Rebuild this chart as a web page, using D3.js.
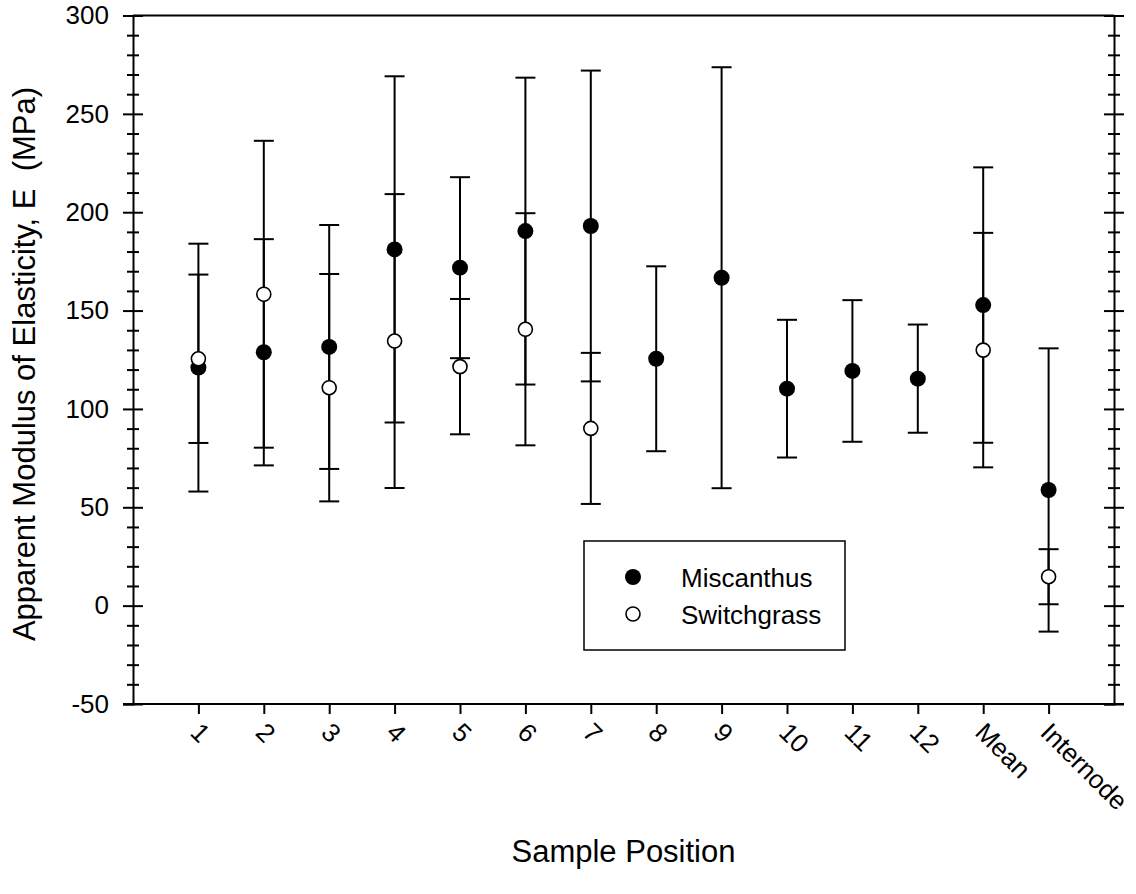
<!DOCTYPE html>
<html>
<head>
<meta charset="utf-8">
<script src="https://cdn.jsdelivr.net/npm/d3@7"></script>
<style>
  body { margin: 0; background: #fff; }
  svg { font-family: "Liberation Sans", Arial, sans-serif; }
</style>
</head>
<body>
<svg id="chart" width="1136" height="894"></svg>
<script>
// categories along the x axis (positions 1..14)
const categories = ["1", "2", "3", "4", "5", "6", "7", "8", "9", "10", "11", "12", "Mean", "Internode"];

// Miscanthus: mean and error bar half-width (MPa)
const miscMean = [121, 128.8, 131.5, 181.1, 171.8, 190.4, 193, 125.5, 166.7, 110.3, 119.3, 115.4, 152.8, 58.8];
const miscErr  = [63, 57.5, 62, 88, 46, 78, 79, 47, 107, 35, 36, 27.5, 70, 72];

// Switchgrass: mean and error (no data for positions 8-12)
const switchMean = [125.5, 158.3, 110.8, 134.5, 121.5, 140.5, 90.1, null, null, null, null, null, 129.9, 14.7];
const switchErr  = [42.8, 78, 57.8, 74.7, 34.4, 59, 38.4, null, null, null, null, null, 59.6, 14];

const yMajor = [-50, 0, 50, 100, 150, 200, 250, 300];
const yMinor = d3.range(-50, 301, 10).filter(v => v % 50 !== 0);

const svg = d3.select("#chart");
const plotL = 133, plotR = 1114, plotT = 15.5, plotB = 704;
const font = "'Liberation Sans', Arial, sans-serif";

const x = d3.scaleLinear().domain([0, categories.length + 1]).range([plotL, plotR]);
const y = d3.scaleLinear().domain([-50, 300]).range([plotB, plotT]);

// frame: top line
svg.append("line")
    .attr("x1", plotL).attr("x2", plotR)
    .attr("y1", plotT).attr("y2", plotT)
    .attr("stroke", "#000").attr("stroke-width", 2);

// left & right axes, ticks cross the line
function yAxes(xpos, labels) {
    const g = svg.append("g").attr("transform", "translate(" + xpos + ",0)");
    g.append("g").call(d3.axisLeft(y).tickValues(yMajor).tickSize(10).tickPadding(14)
        .tickFormat(labels ? (d => String(d)) : ""));
    g.append("g").call(d3.axisRight(y).tickValues(yMajor).tickSize(10).tickFormat(""));
    g.append("g").call(d3.axisLeft(y).tickValues(yMinor).tickSize(6).tickFormat(""));
    g.append("g").call(d3.axisRight(y).tickValues(yMinor).tickSize(6).tickFormat(""));
    g.selectAll(".domain").attr("stroke-width", 2);
    g.selectAll(".tick line").attr("stroke-width", 2);
    g.selectAll("text").style("font-size", "26px").attr("fill", "#000")
        .style("font-family", font);
    g.selectAll(".domain").filter((d, i) => i > 0).remove();
}
yAxes(plotL, true);
yAxes(plotR, false);

// bottom axis
const xAxis = svg.append("g")
    .attr("transform", "translate(0," + plotB + ")")
    .call(d3.axisBottom(x)
        .tickValues(d3.range(1, categories.length + 1))
        .tickSize(10).tickSizeOuter(0)
        .tickFormat(i => categories[i - 1]));
xAxis.select(".domain").attr("d", "M" + (plotL - 10) + ",0H" + (plotR + 10)).attr("stroke-width", 2);
xAxis.selectAll(".tick line").attr("stroke-width", 2);
xAxis.selectAll("text")
    .attr("x", 0).attr("y", 0).attr("dy", null)
    .attr("text-anchor", "start")
    .attr("transform", "translate(-10,30) rotate(45)")
    .attr("fill", "#000")
    .style("font-size", "26px")
    .style("font-family", font);

// build point rows
const miscRows = categories.map((c, i) => ({ pos: i + 1, mean: miscMean[i], err: miscErr[i] }));
const switchRows = categories.map((c, i) => ({ pos: i + 1, mean: switchMean[i], err: switchErr[i] }))
    .filter(d => d.mean !== null);

function drawBars(rows) {
    const g = svg.append("g").attr("stroke", "#000").attr("stroke-width", 2);
    g.selectAll(".stem").data(rows).join("line")
        .attr("x1", d => x(d.pos)).attr("x2", d => x(d.pos))
        .attr("y1", d => y(d.mean - d.err)).attr("y2", d => y(d.mean + d.err));
    g.selectAll(".capTop").data(rows).join("line")
        .attr("x1", d => x(d.pos) - 10).attr("x2", d => x(d.pos) + 10)
        .attr("y1", d => y(d.mean + d.err)).attr("y2", d => y(d.mean + d.err));
    g.selectAll(".capBot").data(rows).join("line")
        .attr("x1", d => x(d.pos) - 10).attr("x2", d => x(d.pos) + 10)
        .attr("y1", d => y(d.mean - d.err)).attr("y2", d => y(d.mean - d.err));
}
drawBars(miscRows);
drawBars(switchRows);

svg.append("g").selectAll("circle").data(miscRows).join("circle")
    .attr("cx", d => x(d.pos)).attr("cy", d => y(d.mean))
    .attr("r", 8).attr("fill", "#000");
svg.append("g").selectAll("circle").data(switchRows).join("circle")
    .attr("cx", d => x(d.pos)).attr("cy", d => y(d.mean))
    .attr("r", 7).attr("fill", "#fff").attr("stroke", "#000").attr("stroke-width", 1.6);

// axis titles
svg.append("text")
    .attr("x", (plotL + plotR) / 2).attr("y", 862)
    .attr("text-anchor", "middle")
    .style("font-size", "31px")
    .text("Sample Position");

svg.append("text")
    .attr("transform", "translate(35,364) rotate(-90)")
    .attr("text-anchor", "middle")
    .style("font-size", "31px")
    .style("white-space", "pre")
    .text("Apparent Modulus of Elasticity, E  (MPa)");

// legend
const legend = svg.append("g");
legend.append("rect")
    .attr("x", 584).attr("y", 541).attr("width", 261).attr("height", 109)
    .attr("fill", "#fff").attr("stroke", "#000").attr("stroke-width", 1.5);
legend.append("circle").attr("cx", 633).attr("cy", 577).attr("r", 8).attr("fill", "#000");
legend.append("circle").attr("cx", 633).attr("cy", 614).attr("r", 7)
    .attr("fill", "#fff").attr("stroke", "#000").attr("stroke-width", 1.6);
legend.append("text").attr("x", 681).attr("y", 587).style("font-size", "26px").text("Miscanthus");
legend.append("text").attr("x", 681).attr("y", 624).style("font-size", "26px").text("Switchgrass");
</script>
</body>
</html>
